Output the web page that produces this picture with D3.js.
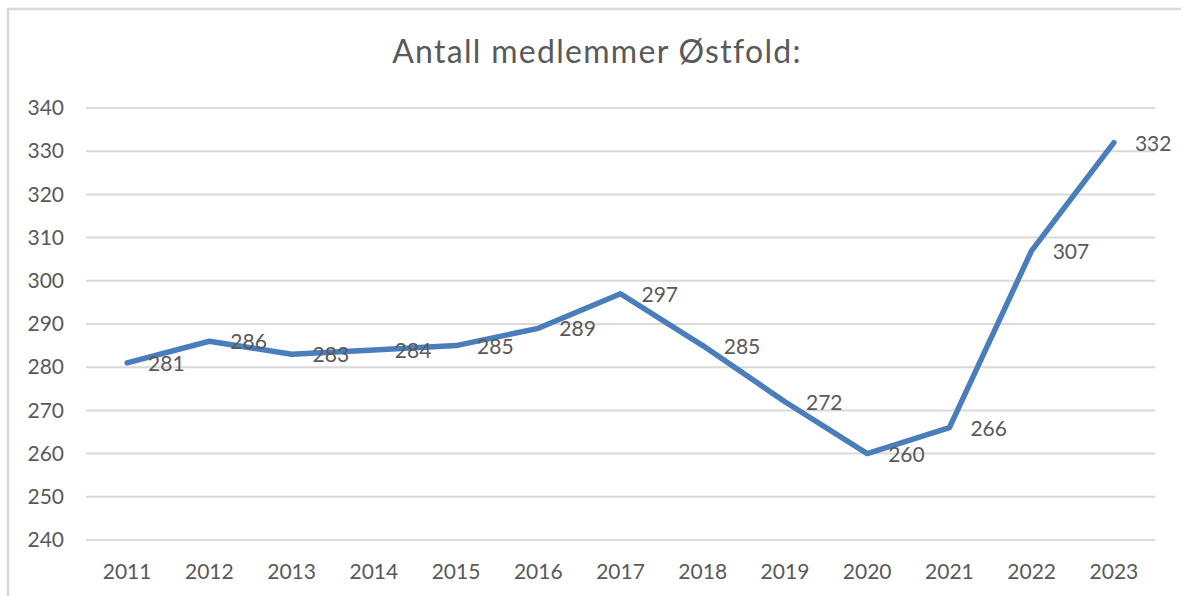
<!DOCTYPE html>
<html>
<head>
<meta charset="utf-8">
<script src="https://cdn.jsdelivr.net/npm/d3@7"></script>
<style>
  body { margin: 0; background: #fff; }
  text { font-family: Lato, "Open Sans", sans-serif; fill: #595959; }
</style>
</head>
<body>
<div id="chart"></div>
<script>
// data
const years = ["2011", "2012", "2013", "2014", "2015", "2016", "2017", "2018", "2019", "2020", "2021", "2022", "2023"];
const members = [281, 286, 283, 284, 285, 289, 297, 285, 272, 260, 266, 307, 332];
const yTicks = [240, 250, 260, 270, 280, 290, 300, 310, 320, 330, 340];

const W = 1181, H = 596;
const margin = { top: 108, right: 26, bottom: 56, left: 86 },
  width = W - margin.left - margin.right,
  height = H - margin.top - margin.bottom;

const root = d3.select("#chart").append("svg")
  .attr("width", W)
  .attr("height", H);

// frame (only top and left edges visible)
root.append("path")
  .attr("d", `M8,${H} L8,9 L${W},9`)
  .attr("fill", "none")
  .attr("stroke", "#d9d9d9")
  .attr("stroke-width", 2.5);

root.append("text")
  .attr("x", 597)
  .attr("y", 63)
  .attr("text-anchor", "middle")
  .style("font-size", "32px")
  .style("letter-spacing", "1.3px")
  .text("Antall medlemmer  Østfold:");

const svg = root.append("g")
  .attr("transform", `translate(${margin.left},${margin.top})`);

const x = d3.scaleBand().domain(years).range([0, width]);
const y = d3.scaleLinear().domain([240, 340]).range([height, 0]);

// gridlines
svg.append("g")
  .selectAll("line")
  .data(yTicks)
  .join("line")
  .attr("x1", 0)
  .attr("x2", width)
  .attr("y1", (d) => y(d))
  .attr("y2", (d) => y(d))
  .attr("stroke", "#d9d9d9")
  .attr("stroke-width", 2);

// y axis
const yAxis = svg.append("g")
  .call(d3.axisLeft(y).tickValues(yTicks).tickSize(0).tickPadding(22));
yAxis.select(".domain").remove();
yAxis.selectAll("text").style("font-size", "21px").attr("fill", "#595959");

// x axis
const xAxis = svg.append("g")
  .attr("transform", `translate(0,${height})`)
  .call(d3.axisBottom(x).tickSize(0).tickPadding(24));
xAxis.select(".domain").remove();
xAxis.selectAll("text").style("font-size", "21px").attr("fill", "#595959");

const cx = (d, i) => x(years[i]) + x.bandwidth() / 2;

// line
svg.append("path")
  .datum(members)
  .attr("fill", "none")
  .attr("stroke", "#4a7ebb")
  .attr("stroke-width", 5.5)
  .attr("stroke-linejoin", "round")
  .attr("stroke-linecap", "round")
  .attr("d", d3.line().x(cx).y((d) => y(d)));

// value labels
svg.append("g")
  .selectAll("text")
  .data(members)
  .join("text")
  .attr("x", (d, i) => cx(d, i) + 21)
  .attr("y", (d) => y(d))
  .attr("dy", "0.38em")
  .style("font-size", "21px")
  .text((d) => d);
</script>
</body>
</html>
